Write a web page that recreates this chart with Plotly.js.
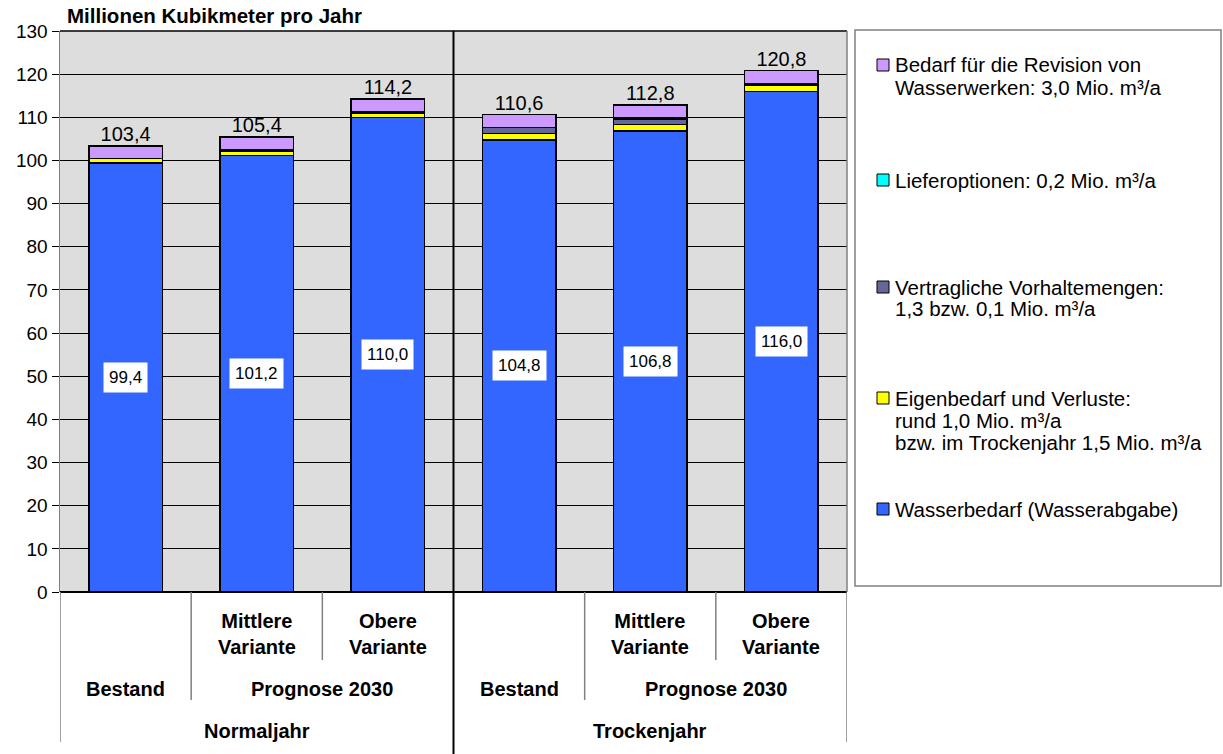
<!DOCTYPE html>
<html><head><meta charset="utf-8">
<script src="https://cdn.plot.ly/plotly-3.0.1.min.js"></script>
<style>body{margin:0;background:#fff}#c{width:1223px;height:754px}</style>
</head><body><div id="c"></div>
<script>
const level1 = ["", "Mittlere<br>Variante", "Obere<br>Variante", "", "Mittlere<br>Variante", "Obere<br>Variante"];
const level2 = ["Bestand", "Prognose 2030", "Trockenjahr"];
const wasserbedarf = [99.4, 101.2, 110.0, 104.8, 106.8, 116.0];
const eigenbedarf = [1.0, 1.0, 1.0, 1.5, 1.5, 1.5];
const vorhalte = [0, 0, 0, 1.3, 1.3, 0.1];
const liefer = [0, 0.2, 0.2, 0, 0.2, 0.2];
const revision = [3.0, 3.0, 3.0, 3.0, 3.0, 3.0];
const totals = [103.4, 105.4, 114.2, 110.6, 112.8, 120.8];
const legendNames = [
  ["Bedarf für die Revision von", "Wasserwerken: 3,0 Mio. m³/a"],
  ["Lieferoptionen: 0,2 Mio. m³/a"],
  ["Vertragliche Vorhaltemengen:", "1,3 bzw. 0,1 Mio. m³/a"],
  ["Eigenbedarf und Verluste:", "rund 1,0 Mio. m³/a", "bzw. im Trockenjahr 1,5 Mio. m³/a"],
  ["Wasserbedarf (Wasserabgabe)"]
];
const colors = {wasser:"#3366FF", eigen:"#FFFF00", vorhalte:"#666699", liefer:"#00FFFF", rev:"#CC99FF"};
const fmt = v => v.toFixed(1).replace(".", ",");
const xs = [0,1,2,3,4,5];
const F = "Liberation Sans, Arial, sans-serif";

function barTrace(y, c){
  return {type:"bar", x:xs, y:y, width:0.56, marker:{color:c, line:{color:"#000", width:1.5}}, showlegend:false, hoverinfo:"y"};
}
const traces = [
  barTrace(wasserbedarf, colors.wasser),
  barTrace(eigenbedarf, colors.eigen),
  barTrace(vorhalte, colors.vorhalte),
  barTrace(liefer, colors.liefer),
  barTrace(revision, colors.rev),
  {type:"scatter", mode:"text", x:xs, y:totals, text:totals.map(fmt), textposition:"top center",
   textfont:{family:F, size:20, color:"#000"}, showlegend:false, hoverinfo:"skip", cliponaxis:false}
];

const L=60, R=847, T=31, B=592;
const px = v => (v - L)/(R-L);
const py = v => (B - v)/(B-T);

const annotations = [];
const shapes = [];
xs.forEach((x,i)=>{
  annotations.push({x:x, y:wasserbedarf[i]/2, xref:"x", yref:"y", text:fmt(wasserbedarf[i]), showarrow:false,
    bgcolor:"#fff", borderpad:5, font:{family:F, size:17, color:"#000"}});
});
annotations.push({x:px(65), y:py(16), xref:"paper", yref:"paper", xanchor:"left", yanchor:"middle",
  text:"<b>Millionen Kubikmeter pro Jahr</b>", showarrow:false, font:{family:F, size:20.5, color:"#000"}});
xs.forEach((x,i)=>{
  if(level1[i]) annotations.push({x:x, y:py(634), xref:"x", yref:"paper", text:"<b>"+level1[i]+"</b>", showarrow:false,
    font:{family:F, size:20, color:"#000"}, yanchor:"middle"});
});
[[0,0],[1.5,1],[3,0],[4.5,1]].forEach(([x,k])=>{
  annotations.push({x:x, y:py(689), xref:"x", yref:"paper", text:"<b>"+level2[k]+"</b>", showarrow:false,
    font:{family:F, size:20, color:"#000"}, yanchor:"middle"});
});
[[1,"Normaljahr"],[4,level2[2]]].forEach(([x,t])=>{
  annotations.push({x:x, y:py(731), xref:"x", yref:"paper", text:"<b>"+t+"</b>", showarrow:false,
    font:{family:F, size:20, color:"#000"}, yanchor:"middle"});
});
const sep = [[-0.5,742],[0.5,700],[1.5,660],[3.5,700],[4.5,660],[5.5,742]];
sep.forEach(([x,yb])=>{
  shapes.push({type:"line", xref:"x", yref:"paper", x0:x, x1:x, y0:0, y1:py(yb), line:{color:"#808080", width:1.5}});
});
shapes.push({type:"line", xref:"x", yref:"paper", x0:2.5, x1:2.5, y0:1, y1:py(754), line:{color:"#000", width:2}});
shapes.push({type:"line", xref:"paper", yref:"paper", x0:0, x1:1, y0:1, y1:1, line:{color:"#000", width:1.5}});
shapes.push({type:"line", xref:"paper", yref:"paper", x0:1, x1:1, y0:0, y1:1, line:{color:"#808080", width:1.5}});
shapes.push({type:"rect", xref:"paper", yref:"paper", x0:px(855), x1:px(1221), y0:py(586), y1:py(30), line:{color:"#808080", width:1.5}, fillcolor:"rgba(0,0,0,0)"});
const legColors = [colors.rev, colors.liefer, colors.vorhalte, colors.eigen, colors.wasser];
const legY = [65, 180, 287, 398, 509];
legendNames.forEach((lines,i)=>{
  const y0 = legY[i];
  shapes.push({type:"rect", xref:"paper", yref:"paper", x0:px(877), x1:px(889), y0:py(y0+6), y1:py(y0-6),
    fillcolor:legColors[i], line:{color:"#000", width:1}});
  lines.forEach((t,j)=>{
    annotations.push({x:px(893), y:py(y0 + j*22), xref:"paper", yref:"paper", xanchor:"left", yanchor:"middle",
      text:t, showarrow:false, font:{family:F, size:20.5, color:"#000"}});
  });
});

const layout = {
  width:1223, height:754,
  margin:{l:L, r:1223-R, t:T, b:754-B, pad:0},
  paper_bgcolor:"#fff", plot_bgcolor:"#DDDDDD",
  barmode:"stack", bargap:0.44,
  showlegend:false,
  xaxis:{range:[-0.5,5.5], showticklabels:false, showgrid:false, zeroline:false, ticks:"", showline:false, fixedrange:true},
  yaxis:{range:[0,130], dtick:10, tick0:0, showgrid:true, gridcolor:"#000", gridwidth:1, zeroline:true, zerolinecolor:"#000", zerolinewidth:1.5,
    ticks:"outside", ticklen:7, tickcolor:"#000", tickwidth:1, showline:true, linecolor:"#808080", linewidth:1.5,
    tickfont:{family:F, size:19, color:"#000"}, fixedrange:true},
  annotations:annotations, shapes:shapes,
  font:{family:F}
};
Plotly.newPlot("c", traces, layout, {displayModeBar:false, staticPlot:true});
</script>
</body></html>
